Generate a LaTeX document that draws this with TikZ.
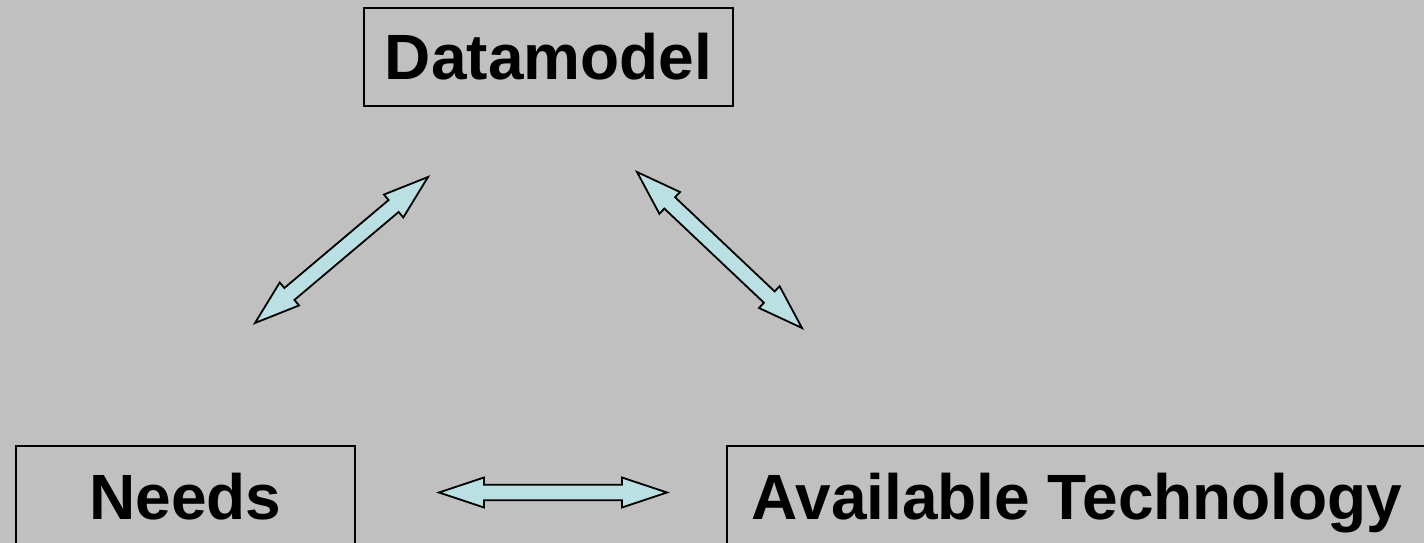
\documentclass[tikz,border=0pt]{standalone}
\usepackage{fontspec}
\setmainfont{Liberation Sans}
\usepackage{tikz}
\usetikzlibrary{calc,positioning}
\definecolor{slidegray}{RGB}{192,192,192}
\definecolor{arrowfill}{RGB}{187,224,227}
\tikzset{
  box/.style={draw=black,line width=1.5pt,inner sep=0pt,text height=46pt,text depth=0pt,
    font=\fontsize{64}{70}\selectfont\bfseries},
  bigarrow/.style={draw=black,line width=1.8pt,fill=arrowfill,line join=miter}
}

\begin{document}
\begin{tikzpicture}[x=1pt,y=-1pt]
    \useasboundingbox (0,0) rectangle (1424,543);
    \fill[slidegray] (0,0) rectangle (1424,543);

    \node[box,minimum width=369pt,minimum height=98pt] (datamodel) at (548.5,57) {Datamodel};
    \node[box,minimum width=339pt,minimum height=100pt] (needs) at (185.5,496) {Needs};
    \node[box,minimum width=700pt,minimum height=100pt] (tech) at (1077,496) {Available Technology};

    % free arrow ends
    \coordinate (needs-dm) at (255,323);
    \coordinate (dm-needs) at (428,177);
    \coordinate (dm-tech) at (637,172);
    \coordinate (tech-dm) at (802,328);
    \coordinate (needs-tech) at (439,492.5);
    \coordinate (tech-needs) at (667,492.5);

    \foreach \a/\b in {needs-dm/dm-needs, dm-tech/tech-dm, needs-tech/tech-needs}
    {
        \draw[bigarrow] (\a) -- ($(\a)!47.43pt!18.43:(\b)$) -- ($(\a)!45.67pt!9.83:(\b)$)
            -- ($(\b)!45.67pt!-9.83:(\a)$) -- ($(\b)!47.43pt!-18.43:(\a)$) -- (\b)
            -- ($(\b)!47.43pt!18.43:(\a)$) -- ($(\b)!45.67pt!9.83:(\a)$)
            -- ($(\a)!45.67pt!-9.83:(\b)$) -- ($(\a)!47.43pt!-18.43:(\b)$) -- cycle;
    }
\end{tikzpicture}
\end{document}
